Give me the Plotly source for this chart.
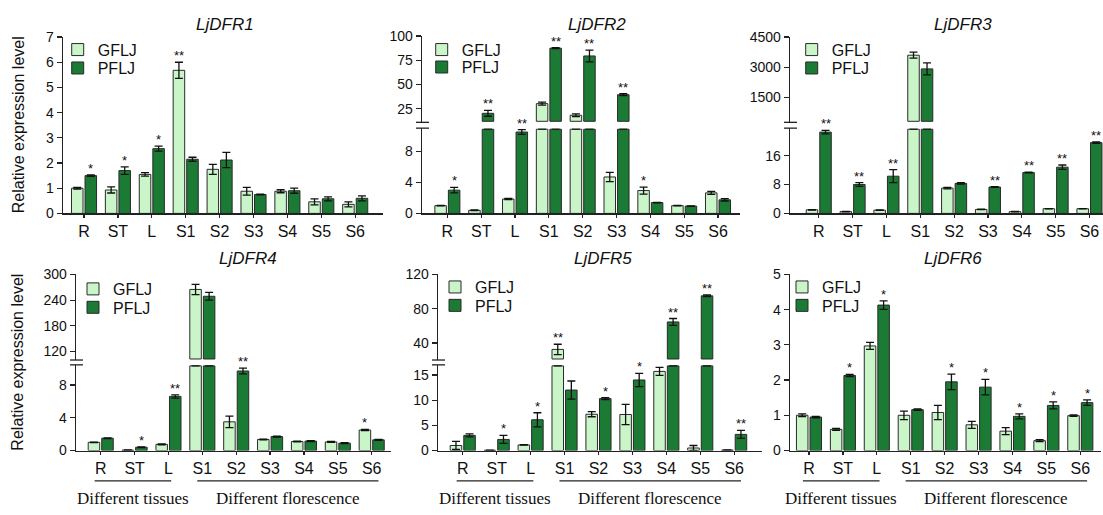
import plotly.graph_objects as go

W, H = 1103, 515

categories = ["R", "ST", "L", "S1", "S2", "S3", "S4", "S5", "S6"]
series_names = ["GFLJ", "PFLJ"]
group_labels = ["Different tissues", "Different florescence"]
y_title = "Relative expression level"

# ---- LjDFR1 ----
dfr1_gflj = [1.00, 0.93, 1.55, 5.68, 1.75, 0.88, 0.88, 0.46, 0.36]
dfr1_gflj_err = [0.03, 0.12, 0.07, 0.32, 0.20, 0.15, 0.06, 0.12, 0.10]
dfr1_pflj = [1.50, 1.70, 2.57, 2.15, 2.12, 0.75, 0.90, 0.58, 0.60]
dfr1_pflj_err = [0.03, 0.15, 0.10, 0.08, 0.30, 0.01, 0.10, 0.08, 0.10]
dfr1_gflj_sig = ["", "", "", "**", "", "", "", "", ""]
dfr1_pflj_sig = ["*", "*", "*", "", "", "", "", "", ""]

# ---- LjDFR2 ----
dfr2_gflj = [1.00, 0.40, 1.85, 30.3, 18.3, 4.70, 2.95, 1.00, 2.65]
dfr2_gflj_err = [0.03, 0.05, 0.08, 1.5, 1.5, 0.60, 0.45, 0.03, 0.20]
dfr2_pflj = [3.00, 20.3, 10.5, 87.5, 79.5, 39.5, 1.40, 0.95, 1.75]
dfr2_pflj_err = [0.35, 3.0, 0.30, 0.5, 6.0, 1.0, 0.03, 0.03, 0.15]
dfr2_gflj_sig = ["", "", "", "", "", "", "*", "", ""]
dfr2_pflj_sig = ["*", "**", "**", "**", "**", "**", "", "", ""]

# ---- LjDFR3 ----
dfr3_gflj = [1.00, 0.50, 0.90, 3600, 7.00, 1.10, 0.50, 1.30, 1.30]
dfr3_gflj_err = [0.05, 0.05, 0.05, 150, 0.20, 0.05, 0.05, 0.05, 0.05]
dfr3_pflj = [22.5, 8.00, 10.3, 2920, 8.30, 7.30, 11.3, 12.8, 19.6]
dfr3_pflj_err = [0.50, 0.50, 1.80, 300, 0.20, 0.10, 0.10, 0.60, 0.20]
dfr3_gflj_sig = ["", "", "", "", "", "", "", "", ""]
dfr3_pflj_sig = ["**", "**", "**", "", "", "**", "**", "**", "**"]

# ---- LjDFR4 ----
dfr4_gflj = [1.00, 0.05, 0.75, 265, 3.50, 1.35, 1.10, 1.05, 2.50]
dfr4_gflj_err = [0.03, 0.01, 0.05, 12, 0.70, 0.05, 0.05, 0.05, 0.08]
dfr4_pflj = [1.50, 0.40, 6.60, 249, 9.70, 1.70, 1.15, 0.90, 1.30]
dfr4_pflj_err = [0.05, 0.05, 0.20, 9, 0.35, 0.05, 0.05, 0.05, 0.05]
dfr4_gflj_sig = ["", "", "", "", "", "", "", "", "*"]
dfr4_pflj_sig = ["", "*", "**", "", "**", "", "", "", ""]

# ---- LjDFR5 ----
dfr5_gflj = [1.00, 0.05, 1.10, 32.4, 7.20, 7.15, 15.7, 0.50, 0.10]
dfr5_gflj_err = [0.80, 0.01, 0.05, 6.0, 0.50, 2.00, 0.80, 0.50, 0.02]
dfr5_pflj = [3.00, 2.20, 6.10, 12.0, 10.3, 14.0, 64.5, 95.0, 3.20]
dfr5_pflj_err = [0.30, 0.80, 1.40, 1.80, 0.20, 1.30, 4.0, 1.0, 0.80]
dfr5_gflj_sig = ["", "", "", "**", "", "", "", "", ""]
dfr5_pflj_sig = ["", "*", "*", "", "*", "*", "**", "**", "**"]

# ---- LjDFR6 ----
dfr6_gflj = [1.00, 0.60, 2.97, 1.00, 1.08, 0.73, 0.55, 0.28, 0.99]
dfr6_gflj_err = [0.04, 0.03, 0.10, 0.12, 0.20, 0.10, 0.10, 0.03, 0.02]
dfr6_pflj = [0.95, 2.13, 4.13, 1.16, 1.95, 1.80, 0.97, 1.28, 1.36]
dfr6_pflj_err = [0.02, 0.03, 0.12, 0.02, 0.22, 0.22, 0.07, 0.10, 0.08]
dfr6_gflj_sig = ["", "", "", "", "", "", "", "", ""]
dfr6_pflj_sig = ["", "*", "*", "", "*", "*", "*", "*", "*"]

# ---- styles / layout (pixel geometry) ----
COL_G = "#c9f5c8"
COL_P = "#1b7a34"
EDGE = "#2a2a2a"
AX = "#222222"
SANS = "Arial, Liberation Sans, sans-serif"
SERIF = "Times New Roman, Liberation Serif, serif"
BAR_W = 0.34
OFFS = [-0.37, 0.03]

panels = [
    dict(title="LjDFR1", data=(dfr1_gflj, dfr1_gflj_err, dfr1_gflj_sig, dfr1_pflj, dfr1_pflj_err, dfr1_pflj_sig),
         xdom=(63, 383), xr=(-0.62, 8.82), low=(212, 30), lowr=(0, 7), lowt=[0, 1, 2, 3, 4, 5, 6, 7],
         up=None, tpos=(225, 17), leg=(72.7, 43, 62), groups=False),
    dict(title="LjDFR2", data=(dfr2_gflj, dfr2_gflj_err, dfr2_gflj_sig, dfr2_pflj, dfr2_pflj_err, dfr2_pflj_sig),
         xdom=(422, 740), xr=(-0.75, 8.65), low=(212, 124), lowr=(0, 11), lowt=[0, 4, 8],
         up=((118, 29), (11, 100), [25, 50, 75, 100]), tpos=(597, 17), leg=(436.7, 43, 61), groups=False),
    dict(title="LjDFR3", data=(dfr3_gflj, dfr3_gflj_err, dfr3_gflj_sig, dfr3_pflj, dfr3_pflj_err, dfr3_pflj_sig),
         xdom=(790, 1103), xr=(-0.85, 8.4), low=(212, 124), lowr=(0, 23.6), lowt=[0, 8, 16],
         up=((118, 30), (265, 4500), [1500, 3000, 4500]), tpos=(963, 17), leg=(806.7, 43, 62), groups=False),
    dict(title="LjDFR4", data=(dfr4_gflj, dfr4_gflj_err, dfr4_gflj_sig, dfr4_pflj, dfr4_pflj_err, dfr4_pflj_sig),
         xdom=(76, 391), xr=(-0.73, 8.57), low=(456.7, 368.3), lowr=(0, 10.45), lowt=[0, 4, 8],
         up=((363.3, 275), (100, 300), [120, 180, 240, 300]), tpos=(248, 259), leg=(88, 290, 309), groups=True),
    dict(title="LjDFR5", data=(dfr5_gflj, dfr5_gflj_err, dfr5_gflj_sig, dfr5_pflj, dfr5_pflj_err, dfr5_pflj_sig),
         xdom=(438, 762), xr=(-0.73, 8.82), low=(456.7, 368.3), lowr=(0, 17), lowt=[0, 5, 10, 15],
         up=((363.3, 275), (20, 120), [40, 80, 120]), tpos=(603, 259), leg=(450, 288, 307), groups=True),
    dict(title="LjDFR6", data=(dfr6_gflj, dfr6_gflj_err, dfr6_gflj_sig, dfr6_pflj, dfr6_pflj_err, dfr6_pflj_sig),
         xdom=(790, 1101), xr=(-0.56, 8.61), low=(456.7, 275), lowr=(0, 5), lowt=[0, 1, 2, 3, 4, 5],
         up=None, tpos=(953, 259), leg=(797, 288, 307), groups=True),
]


def px(x):
    return x / W


def py(y):
    return 1 - y / H


def sfx(n):
    return "" if n == 1 else str(n)


fig = go.Figure()
layout = {}
annotations = []
shapes = []
next_y = 7
leg_k = 0
xs = list(range(len(categories)))

for i, p in enumerate(panels):
    n = i + 1
    xa = "x" + sfx(n)
    x0, x1 = p["xdom"]
    layout["xaxis" + sfx(n)] = dict(
        domain=[px(x0), px(x1)], range=list(p["xr"]), anchor="y" + sfx(n),
        showline=True, linecolor=AX, linewidth=1.3, ticks="outside", ticklen=3,
        tickwidth=1.2, tickcolor=AX, tickvals=xs, ticktext=categories,
        tickfont=dict(size=16, color="#111"), showgrid=False, zeroline=False,
        fixedrange=True)

    broken = p["up"] is not None
    low_max = p["lowr"][1]
    axes = [("y" + sfx(n), p["low"], p["lowr"], p["lowt"], "low")]
    if broken:
        upid = str(next_y)
        next_y += 1
        axes.append(("y" + upid, p["up"][0], p["up"][1], p["up"][2], "up"))

    gv, ge, gs, pv, pe, ps = p["data"]
    series = [(gv, ge, gs, COL_G), (pv, pe, ps, COL_P)]

    for (yname, (yb, yt), yr, yt_vals, part) in axes:
        key = "yaxis" + yname[1:]
        layout[key] = dict(
            domain=[py(yb), py(yt)], range=list(yr), anchor=xa,
            showline=True, linecolor=AX, linewidth=1.3, ticks="outside", ticklen=5,
            tickwidth=1.2, tickcolor=AX, tickvals=yt_vals,
            tickfont=dict(size=14, color="#111"), showgrid=False, zeroline=False,
            fixedrange=True)
        span = yr[1] - yr[0]
        eps = span * 0.012
        for s, (vals, errs, sigs, col) in enumerate(series):
            lg = "legend" + ("" if leg_k + s == 0 else str(leg_k + s + 1))
            base = None
            if part == "low":
                if broken:
                    # bars that run past the break are closed just under it
                    yv = [v if v <= yr[1] else yr[1] - eps for v in vals]
                    ye = [e if v <= yr[1] else None for v, e in zip(vals, errs)]
                else:
                    yv, ye = list(vals), list(errs)
            else:
                # upper segment: only the part above the break is drawn
                b = yr[0] + eps
                base = b
                yv = [v - b if v > yr[0] else None for v in vals]
                ye = [e if v > yr[0] else None for v, e in zip(vals, errs)]
            fig.add_trace(go.Bar(
                x=xs, y=yv, base=base, width=BAR_W, offset=OFFS[s], name=series_names[s],
                marker=dict(color=col, line=dict(color=EDGE, width=1)),
                error_y=dict(type="data", array=ye, color="#111", thickness=1.3, width=4),
                xaxis=xa, yaxis=yname, legend=lg, showlegend=(part == "low"),
                hoverinfo="skip"))

    # legends (one item each)
    lx, ly1, ly2 = p["leg"]
    for s, ly in enumerate([ly1, ly2]):
        lk = leg_k + s
        lname = "legend" + ("" if lk == 0 else str(lk + 1))
        layout[lname] = dict(x=px(lx - 15), y=py(ly), xanchor="left", yanchor="middle",
                             bgcolor="rgba(0,0,0,0)", borderwidth=0,
                             font=dict(family=SANS, size=16, color="#111"),
                             itemclick=False, itemdoubleclick=False)
    leg_k += 2

    # significance asterisks
    for s, (vals, errs, sigs, col) in enumerate(series):
        for k in xs:
            if sigs[k]:
                top = vals[k] + errs[k]
                yref = axes[0][0]
                if broken and top > low_max:
                    yref = axes[1][0]
                annotations.append(dict(
                    x=k + OFFS[s] + BAR_W / 2, y=top, xref=xa, yref=yref,
                    text=sigs[k], showarrow=False, yanchor="bottom", yshift=-3,
                    font=dict(family=SANS, size=13, color="#111")))

    # break marks
    if broken:
        for yy in (p["up"][0][0], p["low"][1]):
            shapes.append(dict(type="line", xref="paper", yref="paper",
                               x0=px(x0 - 6), x1=px(x0 + 7), y0=py(yy), y1=py(yy),
                               line=dict(color=AX, width=1.3)))

    # title
    tx, ty = p["tpos"]
    annotations.append(dict(x=px(tx), y=py(ty), xref="paper", yref="paper",
                            text="<i>" + p["title"] + "</i>", showarrow=False,
                            xanchor="center", yanchor="middle",
                            font=dict(family=SANS, size=17, color="#111")))

    # group labels under bottom row
    if p["groups"]:
        spans = [(0 - 0.18, 2 + 0.08), (3 - 0.15, 8 + 0.2)]
        for gi, (a, b) in enumerate(spans):
            shapes.append(dict(type="line", xref=xa, yref="paper", x0=a, x1=b,
                               y0=py(488), y1=py(488), line=dict(color=AX, width=1.3)))
            annotations.append(dict(x=(a + b) / 2, y=py(506), xref=xa, yref="paper",
                                    text=group_labels[gi], showarrow=False,
                                    xanchor="center", yanchor="middle",
                                    font=dict(family=SERIF, size=17, color="#111")))

# y-axis titles
for yc in (121, 366):
    annotations.append(dict(x=px(18), y=py(yc), xref="paper", yref="paper",
                            text=y_title, textangle=-90, showarrow=False,
                            xanchor="center", yanchor="middle",
                            font=dict(family=SANS, size=16, color="#111")))

fig.update_layout(
    width=W, height=H, margin=dict(l=0, r=0, t=0, b=0),
    paper_bgcolor="white", plot_bgcolor="white",
    font=dict(family=SANS, color="#111"),
    barmode="overlay", annotations=annotations, shapes=shapes,
    hovermode=False, **layout)

POST = (
    "var h=document.documentElement.style;h.margin='0';h.padding='0';h.overflow='hidden';"
    "h.height='515px';h.width='1103px';"
    "var b=document.body.style;b.margin='0';b.padding='0';b.overflow='hidden';"
    "b.height='515px';b.width='1103px';"
    "var d=document.getElementById('{plot_id}');d.style.position='absolute';"
    "d.style.left='0px';d.style.top='0px';"
)

fig.write_html("out.html", config={"displayModeBar": False, "staticPlot": True},
               post_script=POST)
